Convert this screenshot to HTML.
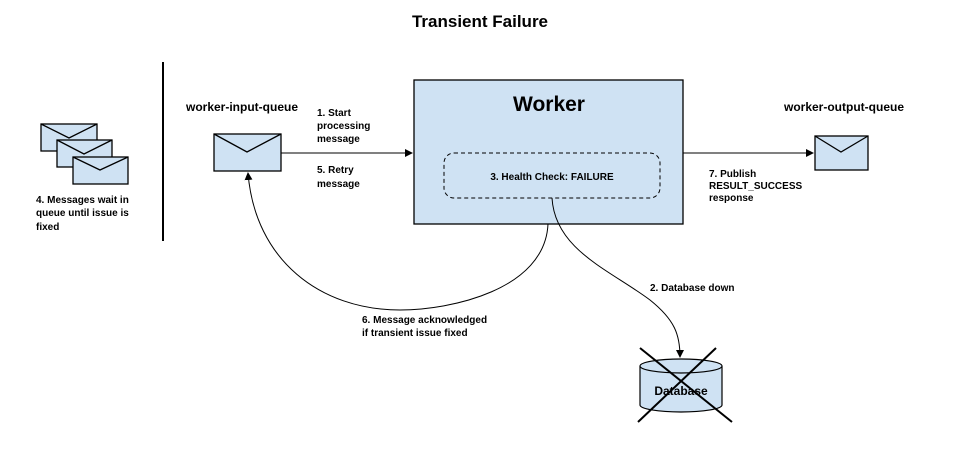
<!DOCTYPE html>
<html><head><style>
body{margin:0;background:#fff;}
svg text{font-family:"Liberation Sans",Arial,sans-serif;font-weight:bold;fill:#000;}
</style></head><body>
<svg width="960" height="457" viewBox="0 0 960 457">
<defs><marker id="a" markerWidth="8" markerHeight="8" refX="7" refY="4" orient="auto" markerUnits="userSpaceOnUse"><path d="M0,0 L8,4 L0,8 z" fill="#000"/></marker></defs>
<text x="480" y="27" font-size="17" text-anchor="middle">Transient Failure</text>
<line x1="163" y1="62" x2="163" y2="241" stroke="#000" stroke-width="2"/>
<g fill="#cfe2f3" stroke="#000" stroke-width="1.3">
<rect x="41" y="124" width="56" height="27"/><path d="M41,124 L69,138 L97,124" fill="none"/>
<rect x="57" y="140" width="55" height="27"/><path d="M57,140 L84,154 L112,140" fill="none"/>
<rect x="73" y="157" width="55" height="27"/><path d="M73,157 L100,170 L128,157" fill="none"/>
<rect x="214" y="134" width="67" height="37"/><path d="M214,134 L247,152 L281,134" fill="none"/>
<rect x="815" y="136" width="53" height="34"/><path d="M815,136 L841,152 L868,136" fill="none"/>
<rect x="414" y="80" width="269" height="144"/>
</g>
<rect x="444" y="153" width="216" height="45" rx="10" fill="none" stroke="#000" stroke-dasharray="4,3"/>
<text x="36" y="203" font-size="10">4. Messages wait in</text>
<text x="36" y="216" font-size="10">queue until issue is</text>
<text x="36" y="230" font-size="10">fixed</text>
<text x="186" y="111" font-size="12">worker-input-queue</text>
<text x="784" y="111" font-size="12">worker-output-queue</text>
<text x="549" y="111" font-size="21" text-anchor="middle">Worker</text>
<text x="552" y="180" font-size="10" text-anchor="middle">3. Health Check: FAILURE</text>
<text x="317" y="116" font-size="10">1. Start</text>
<text x="317" y="129" font-size="10">processing</text>
<text x="317" y="142" font-size="10">message</text>
<text x="317" y="173" font-size="10">5. Retry</text>
<text x="317" y="187" font-size="10">message</text>
<text x="709" y="177" font-size="10">7. Publish</text>
<text x="709" y="189" font-size="10">RESULT_SUCCESS</text>
<text x="709" y="201" font-size="10">response</text>
<text x="650" y="291" font-size="10">2. Database down</text>
<text x="362" y="323" font-size="10">6. Message acknowledged</text>
<text x="362" y="336" font-size="10">if transient issue fixed</text>
<line x1="281" y1="153" x2="412" y2="153" stroke="#000" marker-end="url(#a)"/>
<line x1="683" y1="153" x2="813" y2="153" stroke="#000" marker-end="url(#a)"/>
<path d="M548,224 C545,290 450,310 400,310 C320,310 255,260 248,173" fill="none" stroke="#000" marker-end="url(#a)"/>
<path d="M552,198 C555,250 610,270 650,300 C675,320 680,335 680,357" fill="none" stroke="#000" marker-end="url(#a)"/>
<g fill="#cfe2f3" stroke="#000" stroke-width="1.2">
<path d="M640,366 L640,405 A41,7 0 0 0 722,405 L722,366"/>
<ellipse cx="681" cy="366" rx="41" ry="7"/>
</g>
<text x="681" y="395" font-size="12" text-anchor="middle">Database</text>
<line x1="640" y1="348" x2="732" y2="422" stroke="#000" stroke-width="2"/>
<line x1="716" y1="348" x2="638" y2="422" stroke="#000" stroke-width="2"/>
</svg>
</body></html>
